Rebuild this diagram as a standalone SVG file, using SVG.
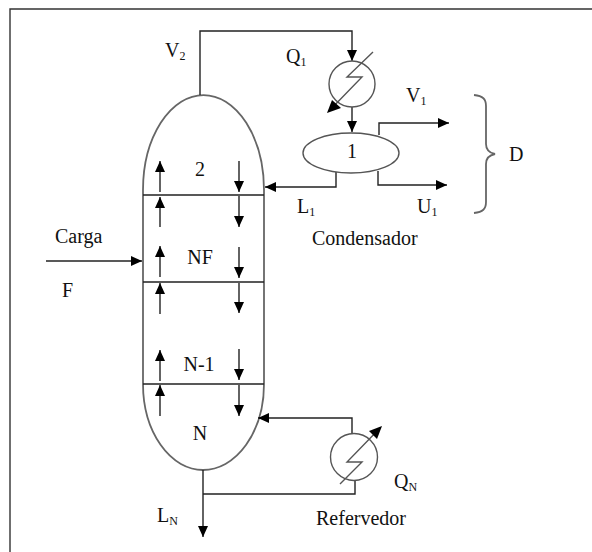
<svg xmlns="http://www.w3.org/2000/svg" width="592" height="552" viewBox="0 0 592 552">
<defs>
<marker id="a" markerUnits="userSpaceOnUse" markerWidth="12" markerHeight="12" refX="11" refY="6" orient="auto"><path d="M0,1 L11,6 L0,11 Z" fill="#000"/></marker>
</defs>
<style>
.l{fill:none;stroke:#222;stroke-width:1.4}
.g{fill:none;stroke:#555;stroke-width:1.4}
.c{fill:none;stroke:#666;stroke-width:1.8}
.a{marker-end:url(#a)}
text{font-family:"Liberation Serif",serif;font-size:20px;fill:#111}
.s{font-size:12px}
.m{text-anchor:middle}
</style>
<rect width="592" height="552" fill="#fff"/>
<path id="frame" d="M10,552 V9 H592" fill="none" stroke="#333" stroke-width="1.4"/>
<g id="column">
<path class="c" d="M143,384 V190 A60.5,95 0 0 1 264,190 V384 A61,86 0 0 1 203,470 A60,86 0 0 1 143,384 Z"/>
<path class="l" d="M143,195 H264 M143,282 H264 M143,384 H264"/>
</g>
<g id="connectors">
<path class="l a" d="M200,95 V31 H352 V61"/>
<path class="l a" d="M352,107 V132"/>
<path class="l a" d="M379,135 V123 H449"/>
<path class="l a" d="M378,171 V185 H447"/>
<path class="l a" d="M336,172 V187 H265"/>
<path class="l a" d="M46,261 H142"/>
<path class="l a" d="M160,192 V161"/>
<path class="l a" d="M160,227 V197"/>
<path class="l a" d="M160,277 V246"/>
<path class="l a" d="M160,314 V283"/>
<path class="l a" d="M160,381 V350"/>
<path class="l a" d="M160,416 V385"/>
<path class="l a" d="M239,161 V192"/>
<path class="l a" d="M239,196 V227"/>
<path class="l a" d="M239,247 V278"/>
<path class="l a" d="M239,283 V313"/>
<path class="l a" d="M239,349 V380"/>
<path class="l a" d="M239,385 V416"/>
<path class="l a" d="M352,434 V418 H258"/>
<path class="l" d="M355,480 V494 H203"/>
<path class="l a" d="M203,470 V537"/>
</g>
<g id="condenser">
<circle class="g" cx="352" cy="84" r="23"/>
<path class="g" d="M373,52 L347,77 H362 L329,111"/>
<path d="M327,113 L332,100 L341,108 Z" fill="#000"/>
</g>
<g id="drum">
<ellipse class="g" cx="351" cy="153" rx="48" ry="20"/>
<text class="m" x="352" y="158">1</text>
</g>
<g id="reboiler">
<circle class="g" cx="354" cy="457" r="23.5"/>
<path class="g" d="M340,484 L362,462 H347 L380,428"/>
<path d="M382,426 L377,439 L369,431 Z" fill="#000"/>
</g>
<g id="brace">
<path class="c" d="M474,95 C483,96 486,99 486,106 V144 C486,150 490,153 495,154 C490,155 486,158 486,164 V202 C486,209 483,212 474,213"/>
</g>
<g id="labels">
<text x="165" y="57">V<tspan class="s" dy="3">2</tspan></text>
<text x="286" y="63">Q<tspan class="s" dy="3">1</tspan></text>
<text x="406" y="102">V<tspan class="s" dy="3">1</tspan></text>
<text x="297" y="213">L<tspan class="s" dy="3">1</tspan></text>
<text x="417" y="213">U<tspan class="s" dy="3">1</tspan></text>
<text x="312" y="245">Condensador</text>
<text x="509" y="161">D</text>
<text class="m" x="200" y="176">2</text>
<text x="55" y="243">Carga</text>
<text x="62" y="297">F</text>
<text class="m" x="200" y="264">NF</text>
<text class="m" x="199" y="371">N-1</text>
<text class="m" x="200" y="440">N</text>
<text x="157" y="522">L<tspan class="s" dy="3">N</tspan></text>
<text x="394" y="488">Q<tspan class="s" dy="3">N</tspan></text>
<text x="316" y="525">Refervedor</text>
</g>
</svg>
